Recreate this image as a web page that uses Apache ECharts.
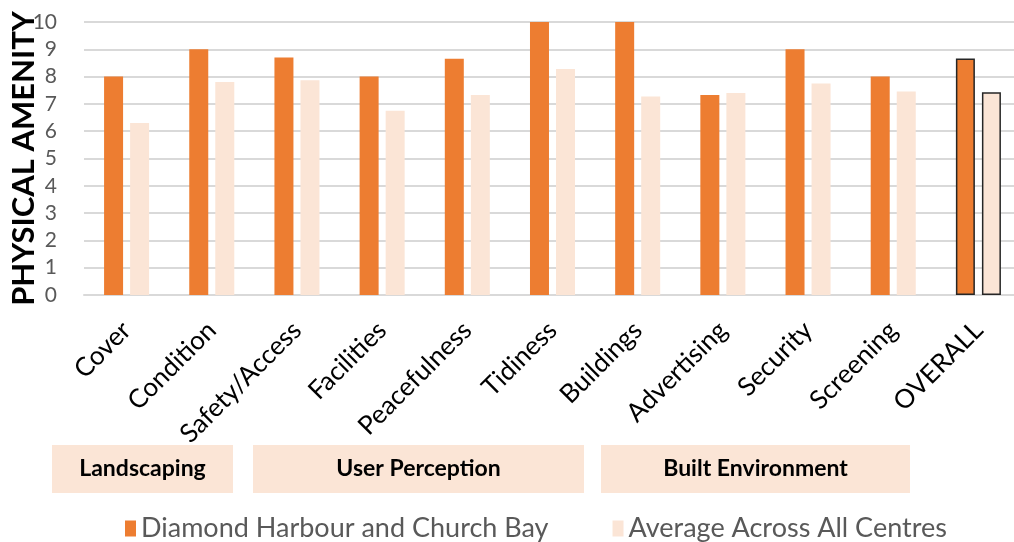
<!DOCTYPE html>
<html>
<head>
<meta charset="utf-8">
<script src="https://cdn.jsdelivr.net/npm/echarts@6/dist/echarts.min.js"></script>
<style>
html,body{margin:0;padding:0;background:#fff;}
#chart{width:1014px;height:542px;}
</style>
</head>
<body>
<div id="chart"></div>
<script>
const categories = ['Cover','Condition','Safety/Access','Facilities','Peacefulness','Tidiness','Buildings','Advertising','Security','Screening','OVERALL'];
const diamondHarbour = [8, 9, 8.7, 8, 8.65, 10, 10, 7.33, 9, 8, 8.66];
const averageAll = [6.3, 7.8, 7.87, 6.75, 7.33, 8.28, 7.27, 7.4, 7.75, 7.45, 7.43];
const yTicks = [0,1,2,3,4,5,6,7,8,9,10];
const groupLabels = ['Landscaping','User Perception','Built Environment'];
const seriesNames = ['Diamond Harbour and Church Bay','Average Across All Centres'];

const FONT = 'Lato, "Liberation Sans", sans-serif';
const ORANGE = '#ED7D31';
const PALE = '#FBE5D6';

function withOverallBorder(arr){
  return arr.map((v,i)=> i === categories.length-1
    ? {value:v, itemStyle:{borderColor:'#262626', borderWidth:1.5}}
    : v);
}

const chart = echarts.init(document.getElementById('chart'));
const boxes = [
  {x:52, w:181},
  {x:253, w:331},
  {x:601, w:309}
];
const graphics = [];
boxes.forEach((b,i)=>{
  graphics.push({type:'rect', left:b.x, top:445, shape:{width:b.w, height:48}, style:{fill:PALE}, z:0});
  graphics.push({type:'text', x:b.x + b.w/2, y:469, style:{text:groupLabels[i], fill:'#000', font:'bold 23px ' + FONT, textAlign:'center', textVerticalAlign:'middle'}, z:1});
});

chart.setOption({
  animation:false,
  textStyle:{fontFamily:FONT},
  grid:{left:84, top:22, width:937, bottom:247, containLabel:false, outerBoundsMode:'none'},
  legend:{
    data:seriesNames, left:120, top:510, itemWidth:11, itemHeight:16, itemGap:64,
    icon:'rect',
    textStyle:{fontSize:27, color:'#595959', fontFamily:FONT}
  },
  xAxis:{
    type:'category', data:categories,
    axisLine:{lineStyle:{color:'#d9d9d9', width:2}},
    axisTick:{show:false},
    axisLabel:{rotate:45, fontSize:26, color:'#000', margin:31, interval:0, fontFamily:FONT}
  },
  yAxis:{
    type:'value', min:0, max:10, interval:1,
    name:'PHYSICAL AMENITY', nameLocation:'middle', nameGap:45, nameMoveOverlap:false,
    nameTextStyle:{fontSize:31, fontWeight:'bold', color:'#000', fontFamily:FONT},
    axisLine:{show:false}, axisTick:{show:false},
    axisLabel:{fontSize:21, color:'#595959', margin:27, fontFamily:FONT,
      formatter:(v)=> yTicks.includes(v) ? String(v) : ''},
    splitLine:{lineStyle:{color:'#d9d9d9', width:2}}
  },
  series:[
    {name:seriesNames[0], type:'bar', data:withOverallBorder(diamondHarbour), barWidth:19, barGap:'37%', itemStyle:{color:ORANGE}},
    {name:seriesNames[1], type:'bar', data:withOverallBorder(averageAll), barWidth:19, itemStyle:{color:PALE}}
  ],
  graphic:graphics
});
</script>
</body>
</html>
